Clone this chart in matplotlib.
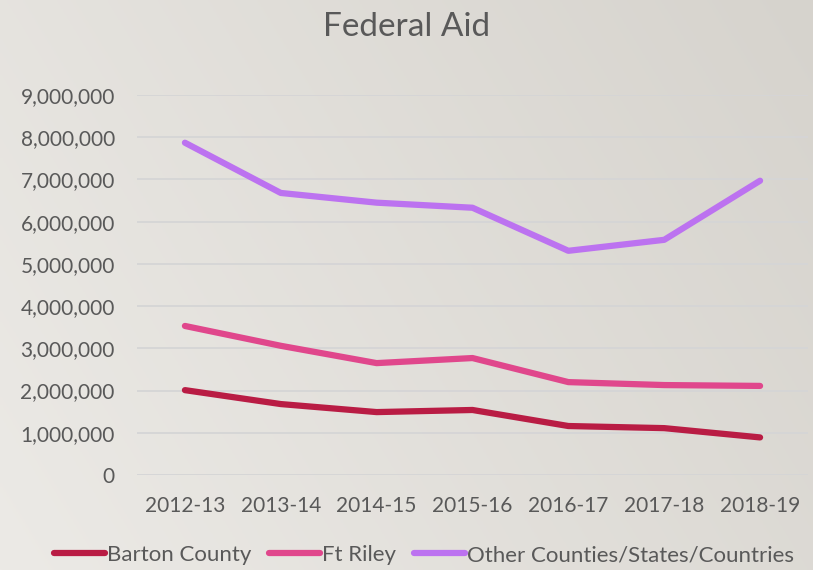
import numpy as np
import matplotlib
matplotlib.use("Agg")
import matplotlib.pyplot as plt
from matplotlib.ticker import FuncFormatter

years = ["2012-13", "2013-14", "2014-15", "2015-16", "2016-17", "2017-18", "2018-19"]
barton = [2010000, 1680000, 1490000, 1540000, 1160000, 1110000, 890000]
ft_riley = [3530000, 3060000, 2650000, 2770000, 2200000, 2130000, 2110000]
other = [7870000, 6680000, 6450000, 6330000, 5310000, 5570000, 6970000]

plt.rcParams['font.family'] = ['Lato', 'DejaVu Sans']
txt = "#595959"

fig = plt.figure(figsize=(8.13, 5.7), dpi=100)

# gradient background
bg = fig.add_axes([0, 0, 1, 1], zorder=-10)
grad = np.linspace(0, 1, 256)
gx, gy = np.meshgrid(grad, grad)
g = 0.7 * gx + 0.3 * gy
c0 = np.array([0xec, 0xea, 0xe6]) / 255
c1 = np.array([0xd6, 0xd3, 0xcd]) / 255
img = c0[None, None, :] * (1 - g[..., None]) + c1[None, None, :] * g[..., None]
bg.imshow(img, aspect="auto", extent=[0, 1, 0, 1], origin="lower")
bg.axis("off")

ax = fig.add_axes([137 / 813, 1 - 475 / 570, (808 - 137) / 813, (475 - 95) / 570])
ax.patch.set_alpha(0)

x = np.arange(len(years))
ax.plot(x, barton, color="#b91c44", lw=4.5, solid_capstyle="round", solid_joinstyle="round", label="Barton County")
ax.plot(x, ft_riley, color="#e0478c", lw=4.5, solid_capstyle="round", solid_joinstyle="round", label="Ft Riley")
ax.plot(x, other, color="#bc72f0", lw=4.5, solid_capstyle="round", solid_joinstyle="round", label="Other Counties/States/Countries")

ax.set_xlim(-0.5, len(years) - 0.5)
ax.set_ylim(0, 9000000)
ax.set_yticks(np.arange(0, 9000001, 1000000))
ax.yaxis.set_major_formatter(FuncFormatter(lambda v, p: f"{int(v):,}"))
ax.set_xticks(x)
ax.set_xticklabels(years)
ax.grid(axis="y", color="#d5d5d6", lw=1.3)
ax.set_axisbelow(True)
for s in ax.spines.values():
    s.set_visible(False)
ax.tick_params(axis="both", length=0, labelsize=15, colors=txt)
ax.tick_params(axis="x", pad=15)
ax.tick_params(axis="y", pad=16)

fig.text(0.5, 1 - 27 / 570, "Federal Aid", ha="center", va="center", fontsize=24, color=txt)

leg = fig.legend(loc="center", bbox_to_anchor=(424 / 813, 1 - 555 / 570), ncol=3,
                 frameon=False, fontsize=16, handlelength=2.3, handletextpad=0.1,
                 columnspacing=0.8)
for t in leg.get_texts():
    t.set_color(txt)

fig.savefig("out.png", dpi=100)
